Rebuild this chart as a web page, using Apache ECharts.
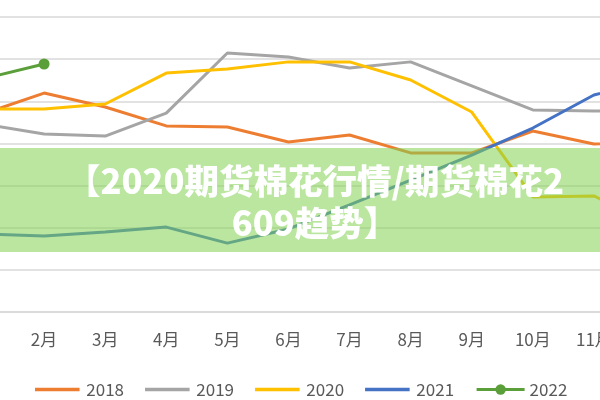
<!DOCTYPE html>
<html>
<head>
<meta charset="utf-8">
<script src="https://cdn.jsdelivr.net/npm/echarts@6/dist/echarts.min.js"></script>
<style>
html,body{margin:0;padding:0;background:#fff;}
#chart{width:600px;height:400px;}
</style>
</head>
<body>
<div id="chart"></div>
<script>
const months = ['1月','2月','3月','4月','5月','6月','7月','8月','9月','10月','11月','12月'];
const s2018 = [19400, 20390, 19730, 18830, 18780, 18070, 18400, 17550, 17550, 18590, 17970, 18160];
const s2019 = [18920, 18450, 18350, 19440, 22290, 22100, 21580, 21870, 20730, 19590, 19540, 19540];
const s2020 = [19630, 19630, 19870, 21340, 21530, 21870, 21870, 21010, 19490, 15460, 15510, 14130];
const s2021 = [13700, 13610, 13800, 14030, 13270, 13940, 15080, 16260, 17450, 18730, 20300, 21010];
const s2022 = [21060, 21770, null, null, null, null, null, null, null, null, null, null];
const seriesNames = ['2018','2019','2020','2021','2022'];
const titleText = '【2020期货棉花行情/期货棉花2\n609趋势】';

const colors = ['#ED7D31','#A5A5A5','#FFC000','#4472C4','#5B9F3A'];
const chart = echarts.init(document.getElementById('chart'));
const dataSets = [s2018, s2019, s2020, s2021, s2022];
const font = '"Noto Sans CJK SC", "Noto Sans", sans-serif';
const barIcon = 'path://M0,0 M0,5 L48,5 L48,9 L0,9 Z M48,14';

chart.setOption({
  backgroundColor: '#ffffff',
  animation: false,
  color: colors,
  grid: { left: -17, right: -55, top: 17, bottom: 88, containLabel: false, outerBoundsMode: 'none' },
  xAxis: {
    type: 'category',
    data: months,
    boundaryGap: false,
    axisLine: { show: true, lineStyle: { color: '#D9D9D9', width: 1.5 } },
    axisTick: { show: false },
    axisLabel: { color: '#595959', fontSize: 17, fontFamily: font, margin: 19, interval: 0 },
    splitLine: { show: false }
  },
  yAxis: {
    type: 'value',
    min: 10000, max: 24000, interval: 2000,
    axisLine: { show: false },
    axisTick: { show: false },
    axisLabel: { show: false },
    splitLine: { show: true, lineStyle: { color: '#D9D9D9', width: 1.5 } }
  },
  legend: {
    data: seriesNames.map((n, i) => (i === 4
      ? { name: n, lineStyle: { width: 3 } }
      : { name: n, icon: barIcon, itemStyle: { borderWidth: 0 } })),
    left: 30, top: 376,
    itemWidth: 48, itemHeight: 13, itemGap: 21,
    textStyle: { color: '#595959', fontSize: 17, fontFamily: font }
  },
  series: seriesNames.map((name, i) => ({
    name: name,
    type: 'line',
    data: dataSets[i],
    smooth: false,
    symbol: i === 4 ? 'circle' : 'none',
    symbolSize: 11,
    showSymbol: i === 4,
    connectNulls: false,
    lineStyle: { width: 3, color: colors[i] },
    itemStyle: { color: colors[i] },
    z: 2 + i
  })),
  graphic: [
    {
      type: 'rect',
      z: 100,
      shape: { x: 0, y: 148, width: 600, height: 104 },
      style: { fill: 'rgba(130,210,82,0.55)' }
    },
    {
      type: 'text',
      z: 101,
      x: 315, y: 202,
      style: {
        text: titleText,
        fill: '#ffffff',
        font: '900 34.5px ' + font,
        textAlign: 'center',
        textVerticalAlign: 'middle',
        lineHeight: 42
      }
    }
  ]
});
</script>
</body>
</html>
